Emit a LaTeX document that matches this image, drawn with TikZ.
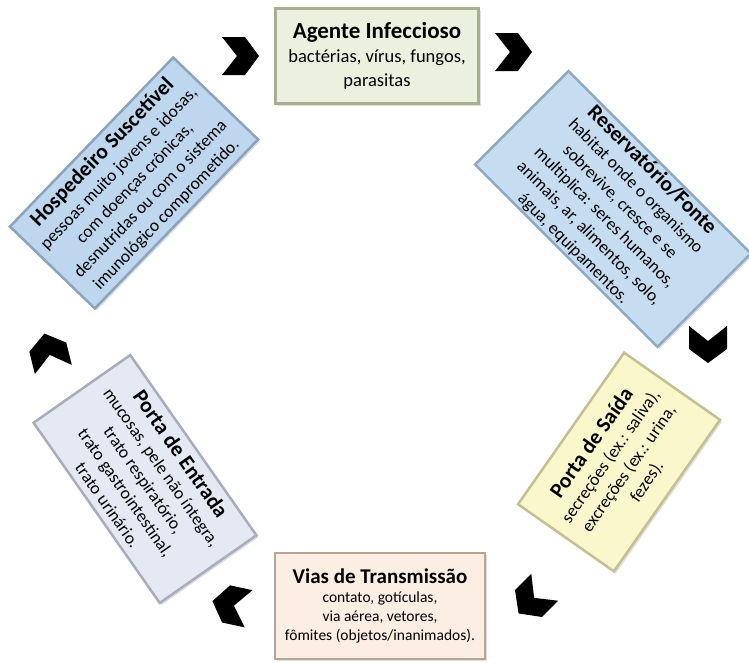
\documentclass[tikz,border=0pt]{standalone}
\usepackage{fontspec}
\setmainfont{Carlito}
\usetikzlibrary{shadows}

\definecolor{agfill}{HTML}{EBF1DE}
\definecolor{agedge}{HTML}{A6B08C}
\definecolor{refill}{HTML}{C6DDF1}
\definecolor{reedge}{HTML}{8EA9C1}
\definecolor{hofill}{HTML}{BED7EE}
\definecolor{hoedge}{HTML}{8BA4BC}
\definecolor{safill}{HTML}{FBF7CD}
\definecolor{saedge}{HTML}{C4BF95}
\definecolor{vifill}{HTML}{FCEEE2}
\definecolor{viedge}{HTML}{B8A595}
\definecolor{enfill}{HTML}{E4E9F4}
\definecolor{enedge}{HTML}{A7ADBA}

\newcommand\boxhead[2][21.5]{{\fontsize{#1}{#1}\selectfont\bfseries #2}\\}

\tikzset{
  box/.style 2 args={fill=#1, draw=#2, line width=2.5pt, align=center, inner sep=2pt,
    drop shadow={opacity=.25, shadow xshift=2pt, shadow yshift=-2pt},
    font=\fontsize{17.5}{22}\selectfont},
  chevron/.pic={\fill[black] (-18,19) -- (5,19) -- (19,0) -- (5,-19) -- (-18,-19) -- (-3,0) -- cycle;}
}

\begin{document}
\begin{tikzpicture}[x=1pt,y=-1pt]
\useasboundingbox (0,0) rectangle (749,662);

\node[box={agfill}{agedge}, minimum width=203pt, minimum height=95pt,
  font=\fontsize{18.5}{24}\selectfont] (agente) at (377,56)
  {\boxhead[23]{Agente Infeccioso}bactérias, vírus, fungos,\\parasitas};
\node[box={refill}{reedge}, minimum width=258pt, minimum height=128pt, rotate=-45] (reserv) at (613,209)
  {\boxhead{Reservatório/Fonte}habitat onde o organismo\\sobrevive, cresce e se\\multiplica: seres humanos,\\animais, ar, alimentos, solo,\\água, equipamentos.};
\node[box={safill}{saedge}, minimum width=185pt, minimum height=117pt, rotate=55] (saida) at (619,462)
  {\boxhead{Porta de Saída}secreções (ex.: saliva),\\excreções (ex.: urina,\\fezes).};
\node[box={vifill}{viedge}, minimum width=210pt, minimum height=106pt,
  font=\fontsize{15.5}{19}\selectfont] (vias) at (380,606)
  {\boxhead[21]{Vias de Transmissão}contato, gotículas,\\via aérea, vetores,\\fômites (objetos/inanimados).};
\node[box={enfill}{enedge}, minimum width=220pt, minimum height=118pt, rotate=-55] (entrada) at (145,479)
  {\boxhead{Porta de Entrada}mucosas, pele não íntegra,\\trato respiratório,\\trato gastrointestinal,\\trato urinário.};
\node[box={hofill}{hoedge}, minimum width=235pt, minimum height=118pt, rotate=46] (hosp) at (134,183)
  {\boxhead{Hospedeiro Suscetível}pessoas muito jovens e idosas,\\com doenças crônicas,\\desnutridas ou com o sistema\\imunológico comprometido.};

\pic at (240,56) {chevron};
\pic at (513,52) {chevron};
\pic[rotate=-90] at (708,344) {chevron};
\pic[rotate=225] at (532,600) {chevron};
\pic[rotate=168] at (231,605) {chevron};
\pic[rotate=104] at (49,352) {chevron};
\end{tikzpicture}
\end{document}
